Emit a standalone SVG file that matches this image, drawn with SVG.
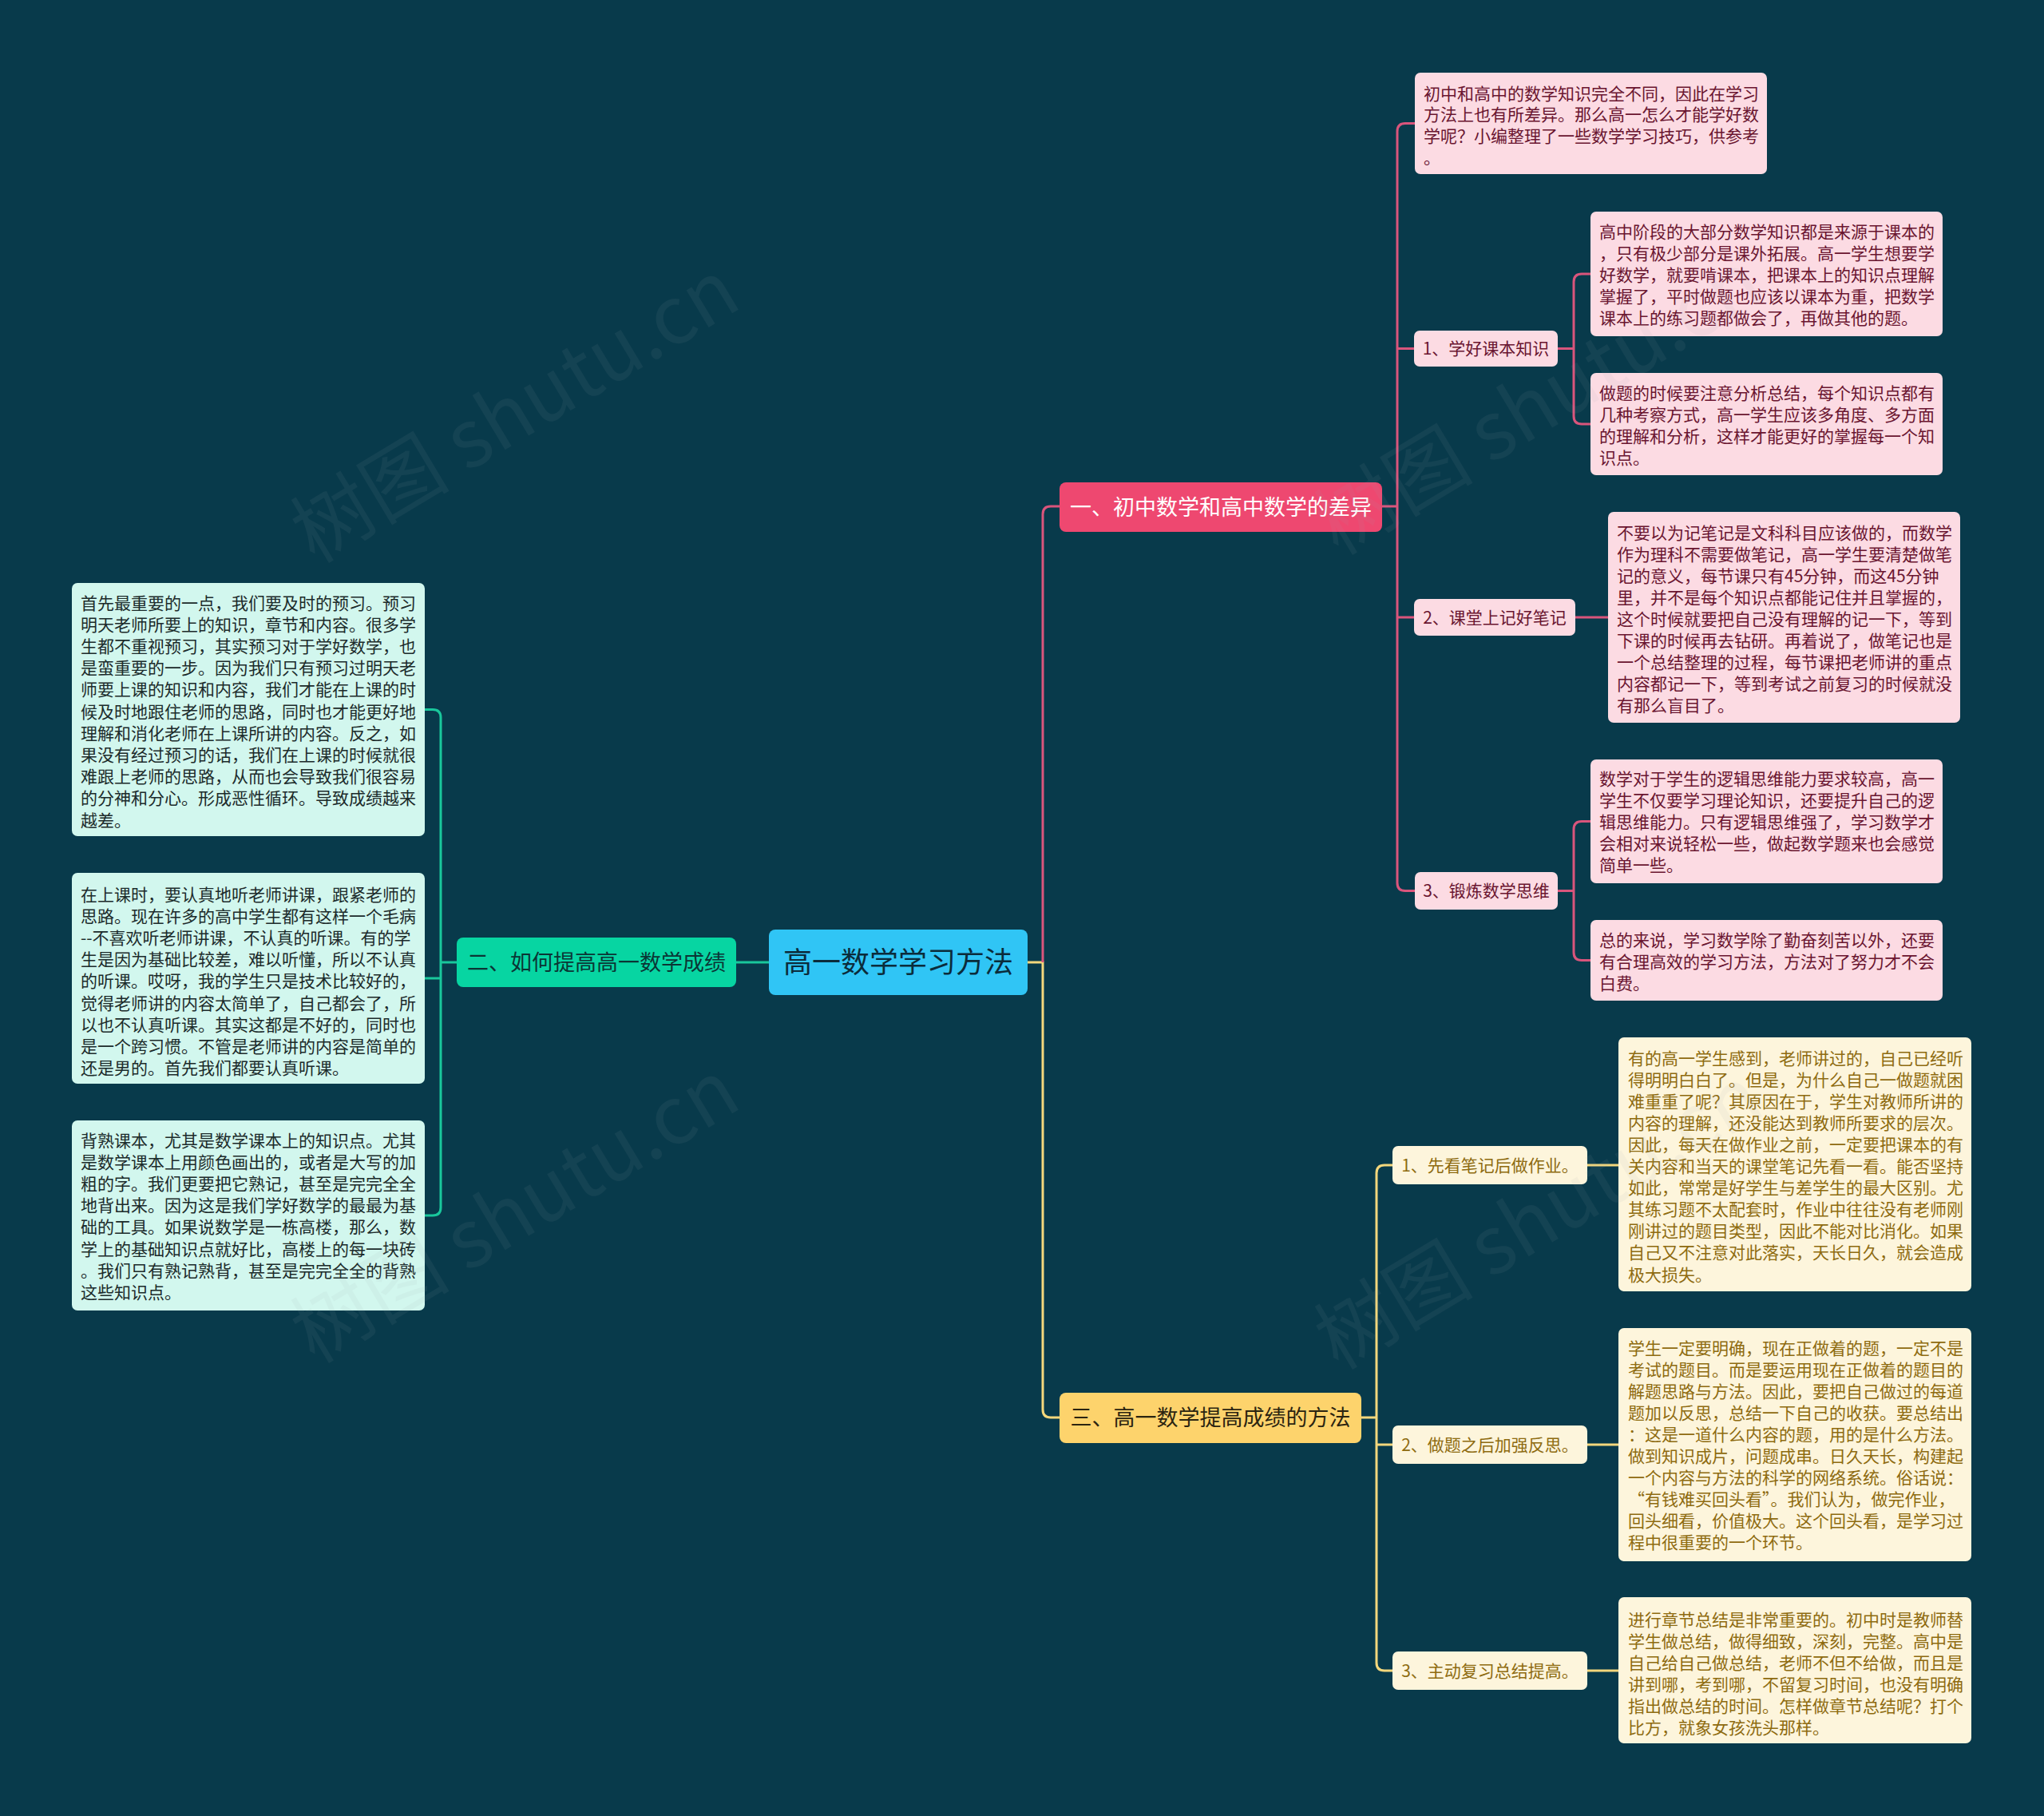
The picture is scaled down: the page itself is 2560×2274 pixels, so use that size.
<svg xmlns="http://www.w3.org/2000/svg" width="2560" height="2274" viewBox="0 0 2560 2274">
<style>
text{font-family:"Noto Sans CJK SC","Noto Sans",sans-serif;}
.lf{font-size:21px;}
.lab{font-size:21px;text-anchor:middle;}
.br{font-size:27px;text-anchor:middle;}
.rt{font-size:36px;text-anchor:middle;fill:#0b2c3b;}
.pk-box{fill:#fcdbe3;}
.pk-t{fill:#6a1530;}
.yl-box{fill:#fdf5dc;}
.yl-t{fill:#8e6b10;}
.gr-box{fill:#d2f7ee;}
.gr-t{fill:#1c2b2b;}
.c-pk{fill:none;stroke:#d9557c;stroke-width:3;}
.c-yl{fill:none;stroke:#f3d77c;stroke-width:3;}
.c-gr{fill:none;stroke:#19c79c;stroke-width:3;}
.wm{font-size:100px;fill:#a0a8ae;opacity:0.08;}
</style>
<rect x="0" y="0" width="2560" height="2274" fill="#083a4b"/>

<g id="connectors">
  <path class="c-gr" d="M963,1205 H922"/>
  <path class="c-gr" d="M572,1205 H552 M532,888.5 H542 Q552,888.5 552,898.5 V1512 Q552,1522 542,1522 H532 M552,1225 H532"/>
  <path class="c-yl" d="M1287,1205 H1306 V1765 Q1306,1775 1316,1775 H1327"/>
  <path class="c-pk" d="M1306,1205 V644 Q1306,634 1316,634 H1327"/>
  <path class="c-pk" d="M1731,634 H1750 M1772,154.5 H1760 Q1750,154.5 1750,164.5 V1105.5 Q1750,1115.5 1760,1115.5 H1772 M1750,436.5 H1771 M1750,773 H1771"/>
  <path class="c-pk" d="M1951,436.5 H1971 M1992,343 H1981 Q1971,343 1971,353 V521 Q1971,531 1981,531 H1992"/>
  <path class="c-pk" d="M1973,773 H2014"/>
  <path class="c-pk" d="M1951,1115.5 H1971 M1992,1028.5 H1981 Q1971,1028.5 1971,1038.5 V1192.5 Q1971,1202.5 1981,1202.5 H1992"/>
  <path class="c-yl" d="M1705,1775 H1724 M1744,1459 H1734 Q1724,1459 1724,1469 V2082 Q1724,2092 1734,2092 H1744 M1724,1809 H1744"/>
  <path class="c-yl" d="M1988,1459 H2027 M1988,1809 H2027 M1988,2092 H2027"/>
</g>

<g id="root">
  <rect x="963" y="1164" width="324" height="82" rx="8" fill="#30c5f5"/>
  <text class="rt" x="1125" y="1217.5">高一数学学习方法</text>
</g>

<g id="branch-green">
  <rect x="572" y="1174" width="350" height="62" rx="8" fill="#07d5a2"/>
  <text class="br" x="747" y="1214.5" fill="#0b3535">二、如何提高高一数学成绩</text>
</g>

<g id="branch-pink">
  <rect x="1327" y="604" width="404" height="62" rx="8" fill="#ee4870"/>
  <text class="br" x="1529" y="644.5" fill="#ffffff">一、初中数学和高中数学的差异</text>
</g>

<g id="branch-yellow">
  <rect x="1327" y="1744" width="378" height="63" rx="8" fill="#fdd36c"/>
  <text class="br" x="1516" y="1784.5" fill="#2b2410">三、高一数学提高成绩的方法</text>
</g>

<g id="pink-intro">
  <rect class="pk-box" x="1772" y="91" width="441" height="127" rx="7"/>
  <text class="lf pk-t"><tspan x="1783" y="124.5">初中和高中的数学知识完全不同，因此在学习</tspan><tspan x="1783" dy="26.7">方法上也有所差异。那么高一怎么才能学好数</tspan><tspan x="1783" dy="26.7">学呢？小编整理了一些数学学习技巧，供参考</tspan><tspan x="1783" dy="26.7">。</tspan></text>
</g>

<g id="pink-l1">
  <rect class="pk-box" x="1771" y="414" width="180" height="45" rx="7"/>
  <text class="lab pk-t" x="1861" y="444">1、学好课本知识</text>
</g>
<g id="pink-l1a">
  <rect class="pk-box" x="1992" y="265" width="441" height="156" rx="7"/>
  <text class="lf pk-t"><tspan x="2003" y="297.5">高中阶段的大部分数学知识都是来源于课本的</tspan><tspan x="2003" dy="27">，只有极少部分是课外拓展。高一学生想要学</tspan><tspan x="2003" dy="27">好数学，就要啃课本，把课本上的知识点理解</tspan><tspan x="2003" dy="27">掌握了，平时做题也应该以课本为重，把数学</tspan><tspan x="2003" dy="27">课本上的练习题都做会了，再做其他的题。</tspan></text>
</g>
<g id="pink-l1b">
  <rect class="pk-box" x="1992" y="467" width="441" height="128" rx="7"/>
  <text class="lf pk-t"><tspan x="2003" y="499.5">做题的时候要注意分析总结，每个知识点都有</tspan><tspan x="2003" dy="27">几种考察方式，高一学生应该多角度、多方面</tspan><tspan x="2003" dy="27">的理解和分析，这样才能更好的掌握每一个知</tspan><tspan x="2003" dy="27">识点。</tspan></text>
</g>

<g id="pink-l2">
  <rect class="pk-box" x="1771" y="750" width="202" height="46" rx="7"/>
  <text class="lab pk-t" x="1872" y="780.5">2、课堂上记好笔记</text>
</g>
<g id="pink-l2a">
  <rect class="pk-box" x="2014" y="641" width="441" height="264" rx="7"/>
  <text class="lf pk-t"><tspan x="2025" y="674.5">不要以为记笔记是文科科目应该做的，而数学</tspan><tspan x="2025" dy="27">作为理科不需要做笔记，高一学生要清楚做笔</tspan><tspan x="2025" dy="27">记的意义，每节课只有45分钟，而这45分钟</tspan><tspan x="2025" dy="27">里，并不是每个知识点都能记住并且掌握的，</tspan><tspan x="2025" dy="27">这个时候就要把自己没有理解的记一下，等到</tspan><tspan x="2025" dy="27">下课的时候再去钻研。再着说了，做笔记也是</tspan><tspan x="2025" dy="27">一个总结整理的过程，每节课把老师讲的重点</tspan><tspan x="2025" dy="27">内容都记一下，等到考试之前复习的时候就没</tspan><tspan x="2025" dy="27">有那么盲目了。</tspan></text>
</g>

<g id="pink-l3">
  <rect class="pk-box" x="1772" y="1092" width="179" height="47" rx="7"/>
  <text class="lab pk-t" x="1861.5" y="1123">3、锻炼数学思维</text>
</g>
<g id="pink-l3a">
  <rect class="pk-box" x="1992" y="951" width="441" height="155" rx="7"/>
  <text class="lf pk-t"><tspan x="2003" y="982.5">数学对于学生的逻辑思维能力要求较高，高一</tspan><tspan x="2003" dy="27">学生不仅要学习理论知识，还要提升自己的逻</tspan><tspan x="2003" dy="27">辑思维能力。只有逻辑思维强了，学习数学才</tspan><tspan x="2003" dy="27">会相对来说轻松一些，做起数学题来也会感觉</tspan><tspan x="2003" dy="27">简单一些。</tspan></text>
</g>
<g id="pink-l3b">
  <rect class="pk-box" x="1992" y="1152" width="441" height="101" rx="7"/>
  <text class="lf pk-t"><tspan x="2003" y="1184.5">总的来说，学习数学除了勤奋刻苦以外，还要</tspan><tspan x="2003" dy="27">有合理高效的学习方法，方法对了努力才不会</tspan><tspan x="2003" dy="27">白费。</tspan></text>
</g>

<g id="yellow-l1">
  <rect class="yl-box" x="1744" y="1435" width="244" height="48" rx="7"/>
  <text class="lab yl-t" x="1866" y="1466.5">1、先看笔记后做作业。</text>
</g>
<g id="yellow-l1a">
  <rect class="yl-box" x="2027" y="1299" width="442" height="318" rx="7"/>
  <text class="lf yl-t"><tspan x="2039" y="1332.5">有的高一学生感到，老师讲过的，自己已经听</tspan><tspan x="2039" dy="27.1">得明明白白了。但是，为什么自己一做题就困</tspan><tspan x="2039" dy="27.1">难重重了呢？其原因在于，学生对教师所讲的</tspan><tspan x="2039" dy="27.1">内容的理解，还没能达到教师所要求的层次。</tspan><tspan x="2039" dy="27.1">因此，每天在做作业之前，一定要把课本的有</tspan><tspan x="2039" dy="27.1">关内容和当天的课堂笔记先看一看。能否坚持</tspan><tspan x="2039" dy="27.1">如此，常常是好学生与差学生的最大区别。尤</tspan><tspan x="2039" dy="27.1">其练习题不太配套时，作业中往往没有老师刚</tspan><tspan x="2039" dy="27.1">刚讲过的题目类型，因此不能对比消化。如果</tspan><tspan x="2039" dy="27.1">自己又不注意对此落实，天长日久，就会造成</tspan><tspan x="2039" dy="27.1">极大损失。</tspan></text>
</g>

<g id="yellow-l2">
  <rect class="yl-box" x="1744" y="1785" width="244" height="48" rx="7"/>
  <text class="lab yl-t" x="1866" y="1816.5">2、做题之后加强反思。</text>
</g>
<g id="yellow-l2a">
  <rect class="yl-box" x="2027" y="1663" width="442" height="292" rx="7"/>
  <text class="lf yl-t"><tspan x="2039" y="1695.5">学生一定要明确，现在正做着的题，一定不是</tspan><tspan x="2039" dy="27.1">考试的题目。而是要运用现在正做着的题目的</tspan><tspan x="2039" dy="27.1">解题思路与方法。因此，要把自己做过的每道</tspan><tspan x="2039" dy="27.1">题加以反思，总结一下自己的收获。要总结出</tspan><tspan x="2039" dy="27.1">：这是一道什么内容的题，用的是什么方法。</tspan><tspan x="2039" dy="27.1">做到知识成片，问题成串。日久天长，构建起</tspan><tspan x="2039" dy="27.1">一个内容与方法的科学的网络系统。俗话说：</tspan><tspan x="2039" dy="27.1">“有钱难买回头看”。我们认为，做完作业，</tspan><tspan x="2039" dy="27.1">回头细看，价值极大。这个回头看，是学习过</tspan><tspan x="2039" dy="27.1">程中很重要的一个环节。</tspan></text>
</g>

<g id="yellow-l3">
  <rect class="yl-box" x="1744" y="2068" width="244" height="48" rx="7"/>
  <text class="lab yl-t" x="1866" y="2099.5">3、主动复习总结提高。</text>
</g>
<g id="yellow-l3a">
  <rect class="yl-box" x="2027" y="2000" width="442" height="183" rx="7"/>
  <text class="lf yl-t"><tspan x="2039" y="2035.5">进行章节总结是非常重要的。初中时是教师替</tspan><tspan x="2039" dy="27.1">学生做总结，做得细致，深刻，完整。高中是</tspan><tspan x="2039" dy="27.1">自己给自己做总结，老师不但不给做，而且是</tspan><tspan x="2039" dy="27.1">讲到哪，考到哪，不留复习时间，也没有明确</tspan><tspan x="2039" dy="27.1">指出做总结的时间。怎样做章节总结呢？打个</tspan><tspan x="2039" dy="27.1">比方，就象女孩洗头那样。</tspan></text>
</g>

<g id="green-1">
  <rect class="gr-box" x="90" y="730" width="442" height="317" rx="7"/>
  <text class="lf gr-t"><tspan x="101" y="762.5">首先最重要的一点，我们要及时的预习。预习</tspan><tspan x="101" dy="27.2">明天老师所要上的知识，章节和内容。很多学</tspan><tspan x="101" dy="27.2">生都不重视预习，其实预习对于学好数学，也</tspan><tspan x="101" dy="27.2">是蛮重要的一步。因为我们只有预习过明天老</tspan><tspan x="101" dy="27.2">师要上课的知识和内容，我们才能在上课的时</tspan><tspan x="101" dy="27.2">候及时地跟住老师的思路，同时也才能更好地</tspan><tspan x="101" dy="27.2">理解和消化老师在上课所讲的内容。反之，如</tspan><tspan x="101" dy="27.2">果没有经过预习的话，我们在上课的时候就很</tspan><tspan x="101" dy="27.2">难跟上老师的思路，从而也会导致我们很容易</tspan><tspan x="101" dy="27.2">的分神和分心。形成恶性循环。导致成绩越来</tspan><tspan x="101" dy="27.2">越差。</tspan></text>
</g>
<g id="green-2">
  <rect class="gr-box" x="90" y="1093" width="442" height="264" rx="7"/>
  <text class="lf gr-t"><tspan x="101" y="1127.5">在上课时，要认真地听老师讲课，跟紧老师的</tspan><tspan x="101" dy="27.2">思路。现在许多的高中学生都有这样一个毛病</tspan><tspan x="101" dy="27.2">--不喜欢听老师讲课，不认真的听课。有的学</tspan><tspan x="101" dy="27.2">生是因为基础比较差，难以听懂，所以不认真</tspan><tspan x="101" dy="27.2">的听课。哎呀，我的学生只是技术比较好的，</tspan><tspan x="101" dy="27.2">觉得老师讲的内容太简单了，自己都会了，所</tspan><tspan x="101" dy="27.2">以也不认真听课。其实这都是不好的，同时也</tspan><tspan x="101" dy="27.2">是一个跨习惯。不管是老师讲的内容是简单的</tspan><tspan x="101" dy="27.2">还是男的。首先我们都要认真听课。</tspan></text>
</g>
<g id="green-3">
  <rect class="gr-box" x="90" y="1403" width="442" height="238" rx="7"/>
  <text class="lf gr-t"><tspan x="101" y="1435.5">背熟课本，尤其是数学课本上的知识点。尤其</tspan><tspan x="101" dy="27.2">是数学课本上用颜色画出的，或者是大写的加</tspan><tspan x="101" dy="27.2">粗的字。我们更要把它熟记，甚至是完完全全</tspan><tspan x="101" dy="27.2">地背出来。因为这是我们学好数学的最最为基</tspan><tspan x="101" dy="27.2">础的工具。如果说数学是一栋高楼，那么，数</tspan><tspan x="101" dy="27.2">学上的基础知识点就好比，高楼上的每一块砖</tspan><tspan x="101" dy="27.2">。我们只有熟记熟背，甚至是完完全全的背熟</tspan><tspan x="101" dy="27.2">这些知识点。</tspan></text>
</g>

<g id="watermarks">
  <text class="wm" transform="translate(645,515) rotate(-31)" text-anchor="middle" y="35">树图 shutu.cn</text>
  <text class="wm" transform="translate(1927,505) rotate(-31)" text-anchor="middle" y="35">树图 shutu.cn</text>
  <text class="wm" transform="translate(645,1517) rotate(-31)" text-anchor="middle" y="35">树图 shutu.cn</text>
  <text class="wm" transform="translate(1927,1525) rotate(-31)" text-anchor="middle" y="35">树图 shutu.cn</text>
</g>
</svg>
